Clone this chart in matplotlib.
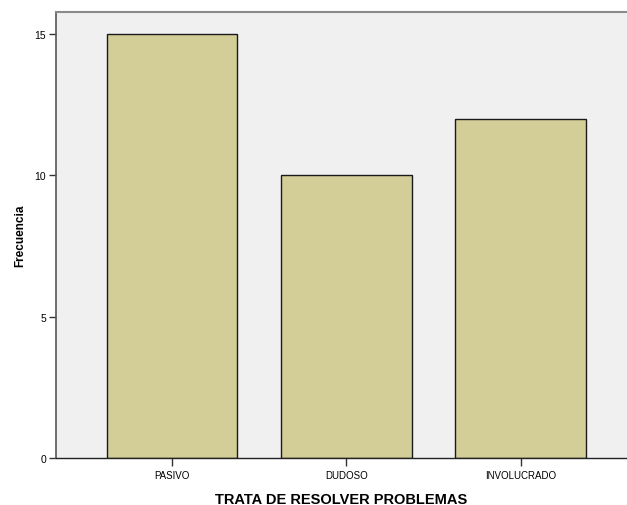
import matplotlib.pyplot as plt
import numpy as np

plt.rcParams['font.family'] = ['Liberation Sans', 'DejaVu Sans']

# data
categories = ['PASIVO', 'DUDOSO', 'INVOLUCRADO']
counts = [15, 10, 12]
y_ticks = [0, 5, 10, 15]

fig = plt.figure(figsize=(6.27, 5.06), dpi=100)
ax = fig.add_axes([56 / 627, 47 / 506, 1 - 56 / 627, (459 - 13) / 506])
ax.set_facecolor('#F0F0F0')

x = np.arange(len(categories))
ax.bar(x, counts, width=0.75, color='#D3CE97', edgecolor='#1a1a1a', linewidth=1.0, zorder=2)

ax.set_xlim(-0.665, 2.61)
ax.set_ylim(0, 15.78)
ax.set_xticks(x)
ax.set_xticklabels(categories, fontsize=7)
ax.set_yticks(y_ticks)
ax.set_yticklabels([str(v) for v in y_ticks], fontsize=7.5)
ax.tick_params(axis='x', length=6, width=1, color='#333333', pad=3)
ax.tick_params(axis='y', length=5, width=1, color='#333333', pad=2)

ax.spines['right'].set_visible(False)
ax.spines['top'].set_color('#8a8a8a')
ax.spines['top'].set_linewidth(1.5)
ax.spines['left'].set_color('#555555')
ax.spines['left'].set_linewidth(1.2)
ax.spines['bottom'].set_color('#222222')
ax.spines['bottom'].set_linewidth(1.0)

ax.set_xlabel('TRATA DE RESOLVER PROBLEMAS', fontsize=10.5, fontweight='bold', labelpad=8)
ax.set_ylabel('Frecuencia', fontsize=8.5, fontweight='bold', labelpad=6)

fig.savefig('out.png', dpi=100)
